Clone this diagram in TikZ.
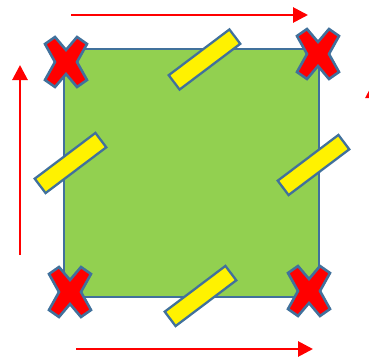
\documentclass[tikz,border=0pt]{standalone}
\usepackage{tikz}
\usepackage{xcolor}
\usetikzlibrary{arrows.meta}
\definecolor{leaf}{HTML}{92D050}
\definecolor{rim}{HTML}{41719C}

\begin{document}
\begin{tikzpicture}[x=1pt,y=-1pt,
  plate/.style={fill=leaf,draw=rim,line width=2pt},
  bar/.style={draw=rim,fill=yellow,line width=2.3pt,minimum width=76pt,
    minimum height=18pt,inner sep=0pt,rotate=37},
  flow/.style={draw=red,line width=2.8pt,-{Triangle[length=15pt,width=15pt]}},
  redx/.pic={\draw[fill=red,draw=rim,line width=2.6pt,line join=miter]
    (-11,-25) -- (0,-12) -- (11,-25) -- (21,-18) -- (11,0) -- (21,18)
    -- (11,25) -- (0,12) -- (-11,25) -- (-21,18) -- (-11,0) -- (-21,-18) -- cycle;}]
\useasboundingbox (0,0) rectangle (369,356);
\clip (0,0) rectangle (369,356);
% the plate
\draw[plate] (64,49) rectangle (319,297);
% yellow bars
\node[bar] (barT) at (204.5,59.5) {};
\node[bar] (barL) at (70.5,163) {};
\node[bar] (barR) at (313.5,165) {};
\node[bar] (barB) at (200.5,296) {};
% corner marks
\pic (xTL) at (66,62) {redx};
\pic (xTR) at (318,54) {redx};
\pic (xBL) at (70,292) {redx};
\pic (xBR) at (309,291) {redx};
% arrows
\coordinate (topS) at (71,15);
\coordinate (topE) at (308,15);
\coordinate (botS) at (76,349);
\coordinate (botE) at (313,349);
\coordinate (lftS) at (20,255);
\coordinate (lftE) at (20,65);
\coordinate (rgtS) at (373,255);
\coordinate (rgtE) at (373,83);
\draw[flow] (topS) -- (topE);
\draw[flow] (botS) -- (botE);
\draw[flow] (lftS) -- (lftE);
\draw[flow] (rgtS) -- (rgtE);
\end{tikzpicture}
\end{document}
